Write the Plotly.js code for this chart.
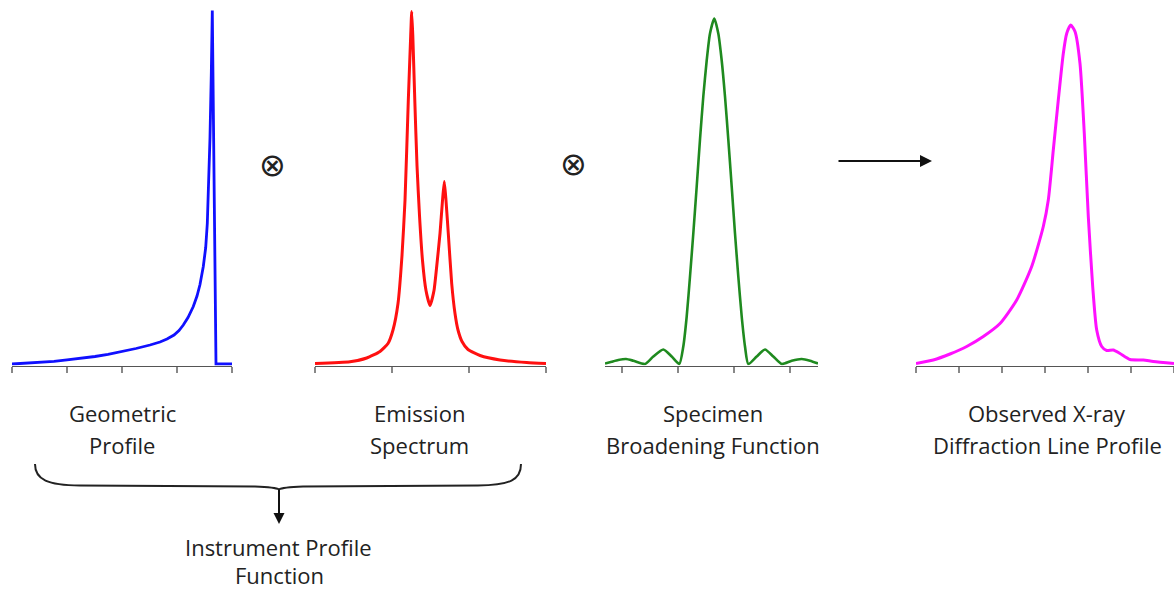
<!DOCTYPE html>
<html>
<head>
<meta charset="utf-8">
<script src="https://cdn.plot.ly/plotly-3.0.1.min.js"></script>
<style>html,body{margin:0;padding:0;background:#fff;}#chart{width:1174px;height:589px;}</style>
</head>
<body>
<div id="chart"></div>
<script>
// ---- data (position along each axis, intensity) ----
var geomX = [0, 14, 28, 42, 55, 69, 83, 96, 110, 124, 138, 148, 155, 162, 167, 171.3, 176, 181.3, 185, 188, 191.3, 193.7, 195.3, 196.7, 198, 199.3, 200.3, 204, 220];
var geomY = [1.5, 2.2, 3, 4.2, 5.6, 7.2, 9, 11.2, 14, 17, 20.5, 23.5, 26.5, 30.5, 35, 40.5, 48, 59, 69.5, 81, 99, 118, 142, 178, 228, 292, 355, 1.5, 1.5];

var emisX = [0, 35, 51.7, 65, 73, 78, 83, 87, 90, 93.3, 95.7, 96.7, 97.8, 99.8, 102, 104.5, 107.5, 111, 115, 119, 121.7, 125, 127.5, 129.3, 131, 133.3, 136.7, 140, 143, 147, 153, 165, 185, 211.7, 231];
var emisY = [2, 3.8, 7.5, 14, 22, 35.5, 62, 110, 165, 265, 330, 354, 330, 265, 200, 150, 105, 75, 60, 75, 99, 132, 165, 184, 165, 132, 82, 52, 35.5, 24, 16, 10, 5.5, 3, 2];

var specX = [-17, -10.3, -3.7, 4, 11.3, 23, 31.3, 41.3, 49.7, 57.3, 61.3, 64.7, 68, 71.3, 74.7, 78, 81.3, 84.7, 88, 92.3, 96.3, 99.7, 103, 106.3, 109.7, 113, 116.3, 119.7, 123, 126.3, 134.7, 143, 151.3, 159.7, 169.7, 179.7, 188, 196];
var specY = [2, 3.8, 5.5, 6.5, 4.8, 1.5, 9, 16, 9, 1.5, 19, 49, 89, 132, 179, 226, 269, 305, 332, 347, 332, 305, 269, 226, 179, 132, 89, 49, 19, 1.5, 9, 16, 9, 1.5, 4.8, 6.5, 4.8, 2];

var obsX = [0, 17.3, 34, 50.7, 67.3, 84, 100.7, 115.7, 127.3, 132.3, 137.3, 142.3, 147.3, 150.7, 154.7, 159, 164, 168.3, 172.3, 176.7, 180.7, 185.7, 190.7, 197.3, 204, 214, 227.3, 237.3, 258];
var obsY = [2, 5.5, 11.5, 19, 29, 42, 65.5, 99, 139, 165.5, 215.5, 265.5, 312, 332, 340.5, 334, 302, 232, 149, 79, 35.5, 19, 15, 15.5, 12, 6, 5.5, 4, 2];

var panelLabels = [
  ["Geometric", "Profile"],
  ["Emission", "Spectrum"],
  ["Specimen", "Broadening Function"],
  ["Observed X-ray", "Diffraction Line Profile"]
];
var instrumentLabel = ["Instrument Profile", "Function"];
var convSymbol = "\u2297";

// ---- helpers: pixel -> paper ----
var W = 1174, H = 589;
function P(x) { return x / W; }
function Q(y) { return 1 - y / H; }

var traces = [
  {x: geomX, y: geomY, xaxis: 'x', yaxis: 'y', mode: 'lines', line: {color: '#1010ff', width: 2.8}, hoverinfo: 'skip'},
  {x: emisX, y: emisY, xaxis: 'x2', yaxis: 'y', mode: 'lines', line: {color: '#ff1010', width: 3, shape: 'spline', smoothing: 0.5}, hoverinfo: 'skip'},
  {x: specX, y: specY, xaxis: 'x3', yaxis: 'y', mode: 'lines', line: {color: '#1f8a1f', width: 2.6, shape: 'spline', smoothing: 0.6}, hoverinfo: 'skip'},
  {x: obsX, y: obsY, xaxis: 'x4', yaxis: 'y', mode: 'lines', line: {color: '#ff10ff', width: 3, shape: 'spline', smoothing: 0.6}, hoverinfo: 'skip'}
];

function xax(d0, d1, r, t0, dt) {
  return {
    domain: [P(d0), P(d1)], range: r, anchor: 'y',
    showline: true, linecolor: '#555', linewidth: 1.5,
    ticks: 'outside', ticklen: 6, tickwidth: 1.3, tickcolor: '#888',
    tick0: t0, dtick: dt, showticklabels: false,
    showgrid: false, zeroline: false, fixedrange: true, layer: 'below traces'
  };
}

var textFont = {family: 'Open Sans, sans-serif', size: 22, color: '#222'};
var annotations = [];
var labelX = [122, 419, 713, 1047];
var labelY = [413, 445];
for (var i = 0; i < panelLabels.length; i++) {
  for (var j = 0; j < 2; j++) {
    annotations.push({xref: 'paper', yref: 'paper', x: P(labelX[i]), y: Q(labelY[j]),
      text: panelLabels[i][j], showarrow: false, xanchor: 'center', yanchor: 'middle', font: textFont});
  }
}
annotations.push({xref: 'paper', yref: 'paper', x: P(278), y: Q(547), text: instrumentLabel[0], showarrow: false, xanchor: 'center', yanchor: 'middle', font: textFont});
annotations.push({xref: 'paper', yref: 'paper', x: P(279), y: Q(575), text: instrumentLabel[1], showarrow: false, xanchor: 'center', yanchor: 'middle', font: textFont});

var symFont = {family: 'DejaVu Sans, sans-serif', size: 32, color: '#222'};
annotations.push({xref: 'paper', yref: 'paper', x: P(272.5), y: Q(165), text: convSymbol, showarrow: false, xanchor: 'center', yanchor: 'middle', font: symFont});
annotations.push({xref: 'paper', yref: 'paper', x: P(573), y: Q(164), text: convSymbol, showarrow: false, xanchor: 'center', yanchor: 'middle', font: symFont});

// arrows
annotations.push({xref: 'paper', yref: 'paper', x: P(932), y: Q(161), ax: -95, ay: 0, text: '', showarrow: true,
  arrowhead: 2, arrowsize: 1.2, arrowwidth: 2, arrowcolor: '#111', standoff: 0});
annotations.push({xref: 'paper', yref: 'paper', x: P(279), y: Q(524), ax: 0, ay: -36, text: '', showarrow: true,
  arrowhead: 2, arrowsize: 1.1, arrowwidth: 2, arrowcolor: '#111', standoff: 0});

// brace
function pt(x, y) { return P(x).toFixed(5) + ',' + Q(y).toFixed(5); }
var bracePath = 'M' + pt(35, 464) + ' C' + pt(35, 480) + ' ' + pt(48, 485) + ' ' + pt(80, 485.5) +
  ' L' + pt(255, 486.5) + ' C' + pt(268, 487) + ' ' + pt(276, 487.5) + ' ' + pt(279, 489.5) +
  ' C' + pt(282, 487.5) + ' ' + pt(290, 487) + ' ' + pt(303, 486.5) +
  ' L' + pt(478, 485.5) + ' C' + pt(510, 485) + ' ' + pt(521, 480) + ' ' + pt(521, 464);

var layout = {
  width: W, height: H,
  margin: {l: 0, r: 0, t: 0, b: 0, pad: 0},
  paper_bgcolor: '#fff', plot_bgcolor: 'rgba(0,0,0,0)',
  showlegend: false,
  xaxis: xax(12, 232, [0, 220], 0, 55),
  xaxis2: xax(315, 546, [0, 231], 0, 77),
  xaxis3: xax(605, 818, [-17, 196], 0, 56),
  xaxis4: xax(916, 1174, [0, 258], 0, 43),
  yaxis: {domain: [Q(365.5), Q(5.5)], range: [0, 360], visible: false, fixedrange: true},
  annotations: annotations,
  shapes: [{type: 'path', xref: 'paper', yref: 'paper', path: bracePath, line: {color: '#222', width: 2}}]
};

Plotly.newPlot('chart', traces, layout, {staticPlot: true, displayModeBar: false});
</script>
</body>
</html>
